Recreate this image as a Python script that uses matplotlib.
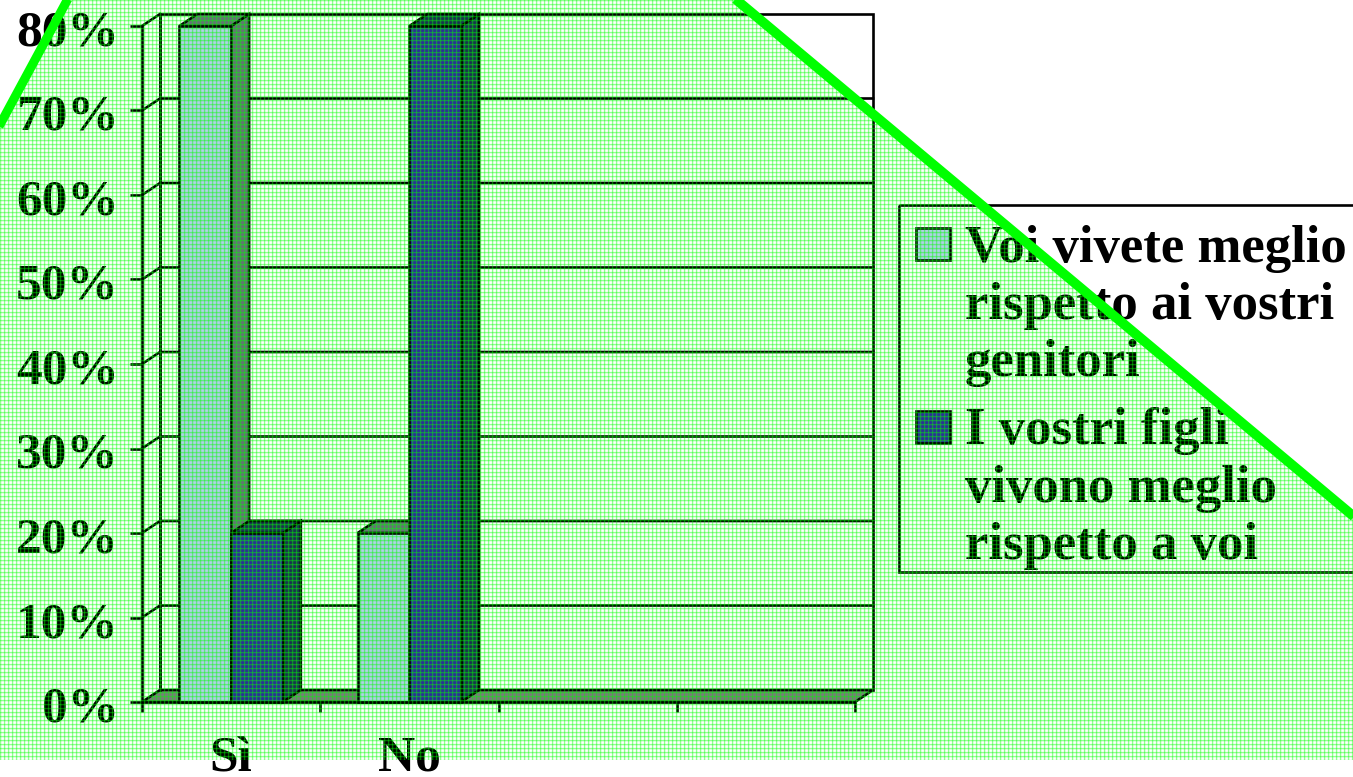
import numpy as np
import matplotlib
matplotlib.use("Agg")
import matplotlib.pyplot as plt
from matplotlib.patches import Polygon, Rectangle
from matplotlib.transforms import ScaledTranslation

# ---- data ----
categories = ["Sì", "No", "", ""]
series_names = [
    ["Voi vivete meglio", "rispetto ai vostri", "genitori"],
    ["I vostri figli", "vivono meglio", "rispetto a voi"],
]
series_a = [80, 20, 0, 0]
series_b = [20, 80, 0, 0]
y_ticks = [0, 10, 20, 30, 40, 50, 60, 70, 80]
y_labels = ["0%", "10%", "20%", "30%", "40%", "50%", "60%", "70%", "80%"]

# ---- layout (pixels of the 1353x777 canvas) ----
W, H = 1353, 777
AX_L, AX_R, AX_T, AX_B = 142, 855, 26, 702
DEPTH_X_PX, DEPTH_Y_PX = 18, 12
WALL_TOP_PX = 14
FONT = "Liberation Serif"
FS_TICK = 37
FS_LEG = 38
LIGHT, LIGHT_SIDE = "#B0D0E8", "#667077"
DARK, DARK_SIDE = "#2C2C99", "#1A3050"
FLOOR = "#7A7A7A"
LW = 1.9

fig = plt.figure(figsize=(W / 100, H / 100), dpi=100, facecolor="white")
ax = fig.add_axes([AX_L / W, 1 - AX_B / H, (AX_R - AX_L) / W, (AX_B - AX_T) / H])
ax.set_xlim(0, len(categories))
ax.set_ylim(0, 80)
ax.patch.set_visible(False)

dx = DEPTH_X_PX / (AX_R - AX_L) * len(categories)
dy = DEPTH_Y_PX / (AX_B - AX_T) * 80
wall_top = 80 + (AX_T - WALL_TOP_PX) / (AX_B - AX_T) * 80
n = len(categories)

# back wall + floor
ax.add_patch(Polygon([(dx, dy), (n + dx, dy), (n + dx, wall_top), (dx, wall_top)],
                     closed=True, fc="white", ec="black", lw=LW, clip_on=False, zorder=1))
ax.add_patch(Polygon([(0, 0), (n, 0), (n + dx, dy), (dx, dy)],
                     closed=True, fc=FLOOR, ec="black", lw=LW, clip_on=False, zorder=1.5))
# gridlines on the wall and the left side
for v in y_ticks[1:]:
    vy = v + dy
    if vy < wall_top:
        ax.plot([0, dx, n + dx], [v, vy, vy], color="black", lw=LW, clip_on=False, zorder=1.7,
                solid_joinstyle="miter")
ax.plot([dx, dx], [dy, wall_top], color="black", lw=LW, clip_on=False, zorder=1.7)
ax.plot([0, dx], [80, wall_top], color="black", lw=LW, clip_on=False, zorder=1.7)

# bars
bar_w = 0.29
x = np.arange(n) + 0.5
for offs, vals, fc, side, z in [(-bar_w, series_a, LIGHT, LIGHT_SIDE, 2),
                                (0, series_b, DARK, DARK_SIDE, 3)]:
    for xi, v in zip(x + offs, vals):
        if v <= 0:
            continue
        r = xi + bar_w
        ax.add_patch(Polygon([(r, 0), (r + dx, dy), (r + dx, v + dy), (r, v)], closed=True,
                             fc=side, ec="black", lw=LW, clip_on=False, zorder=z))
        ax.add_patch(Polygon([(xi, v), (r, v), (r + dx, v + dy), (xi + dx, v + dy)], closed=True,
                             fc=side, ec="black", lw=LW, clip_on=False, zorder=z))
        ax.bar(xi, v, width=bar_w, align="edge", color=fc, edgecolor="black", lw=LW,
               clip_on=False, zorder=z + 0.5)

# axes and labels
for s in ("top", "right"):
    ax.spines[s].set_visible(False)
for s in ("left", "bottom"):
    ax.spines[s].set_linewidth(LW)
    ax.spines[s].set_zorder(4)
ax.set_yticks(y_ticks)
ax.set_yticklabels(y_labels, fontfamily=FONT, fontweight="bold", fontsize=FS_TICK)
ax.tick_params(axis="y", length=8.6, width=LW, pad=8)
shift = ScaledTranslation(0, -2 / 100, fig.dpi_scale_trans)
for lab in ax.get_yticklabels():
    lab.set_transform(lab.get_transform() + shift)
ax.set_xticks(np.arange(n + 1))
ax.set_xticklabels([""] * (n + 1))
ax.set_xticks(x, minor=True)
ax.set_xticklabels(categories, minor=True, fontfamily=FONT, fontweight="bold", fontsize=FS_TICK)
ax.tick_params(axis="x", which="major", length=7.2, width=LW)
ax.tick_params(axis="x", which="minor", length=0, pad=24)

# pixel-space layer: legend and decorative overlay
pix = fig.add_axes([0, 0, 1, 1], zorder=5)
pix.set_xlim(0, W)
pix.set_ylim(H, 0)
pix.axis("off")

pix.add_patch(Rectangle((899, 205), 600, 367, fc="none", ec="black", lw=LW, zorder=1))
swatches = [(916, 228, LIGHT), (916, 411, DARK)]
baselines = [[262, 319, 376], [444, 502, 559]]
for (sx, sy, c), lines, ys in zip(swatches, series_names, baselines):
    pix.add_patch(Rectangle((sx, sy), 34, 32, fc=c, ec="black", lw=LW, zorder=1))
    for line, by in zip(lines, ys):
        pix.text(965, by, line, fontfamily=FONT, fontweight="bold", fontsize=FS_LEG,
                 va="baseline", ha="left", color="black", zorder=2)

# mesh overlay clipped to the slide-shape outline
outline = [(70, -5), (-3, 131), (-3, 760), (W + 3, 760), (W + 3, 518), (733, -3)]
prof = np.array([0.42, 0.12, 0.0, 0.05])
ax_prof = prof[np.arange(W) % 4]
ay_prof = prof[np.arange(H) % 4]
alpha = 1 - np.outer(1 - ay_prof, 1 - ax_prof)
rgba = np.zeros((H, W, 4))
rgba[..., 1] = 1.0
rgba[..., 3] = alpha
im = pix.imshow(rgba, extent=(0, W, H, 0), interpolation="nearest", aspect="auto", zorder=5)
clip = Polygon(outline, closed=True, transform=pix.transData, fc="none", ec="none")
pix.add_patch(clip)
im.set_clip_path(clip)
pix.set_xlim(0, W)
pix.set_ylim(H, 0)
pix.plot([70, -4], [-5, 132], color="#00FF00", lw=6.5, zorder=6, solid_capstyle="butt")
pix.plot([733, 1358], [-3, 520], color="#00FF00", lw=7, zorder=6, solid_capstyle="butt")

fig.savefig("out.png", dpi=100)
